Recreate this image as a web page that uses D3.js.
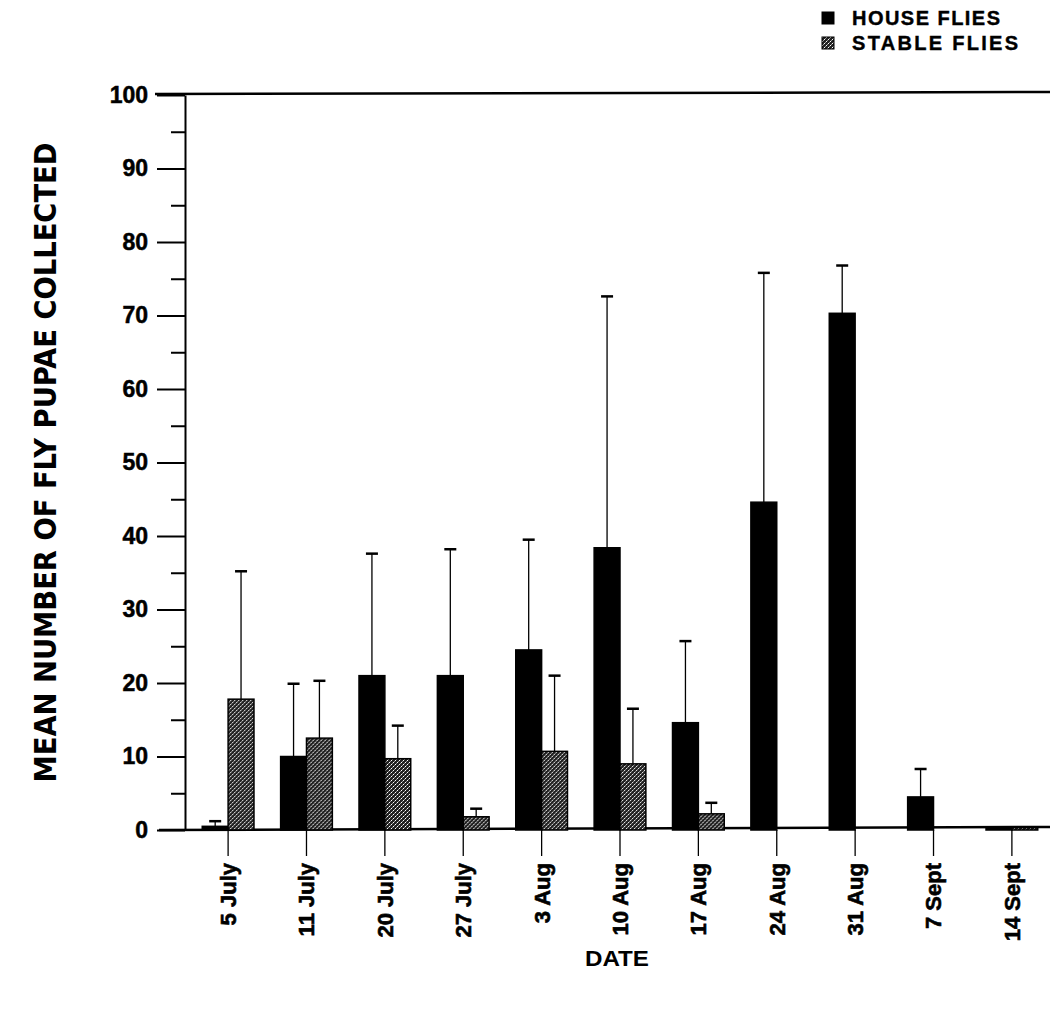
<!DOCTYPE html>
<html>
<head>
<meta charset="utf-8">
<script src="https://cdn.jsdelivr.net/npm/d3@7"></script>
<style>
  body { margin: 0; background: #fff; }
  svg { display: block; }
  text { fill: #000; }
</style>
</head>
<body>
<svg id="chart" width="1050" height="1025"></svg>
<script>
// values
var dates = ['5 July', '11 July', '20 July', '27 July', '3 Aug', '10 Aug', '17 Aug', '24 Aug', '31 Aug', '7 Sept', '14 Sept'];
var houseMean = [0.5, 10.0, 21.0, 21.0, 24.5, 38.4, 14.6, 44.6, 70.3, 4.5, 0.2];
var houseErr  = [1.2, 19.9, 37.6, 38.2, 39.5, 72.6, 25.7, 75.8, 76.8, 8.3, null];
var stableMean = [17.8, 12.5, 9.7, 1.8, 10.7, 9.0, 2.2, 0, 0, 0, 0.3];
var stableErr  = [35.2, 20.3, 14.2, 2.9, 21.0, 16.5, 3.7, null, null, null, null];
var series = ['house', 'stable'];
var legendLabels = ['HOUSE FLIES', 'STABLE FLIES'];
var majorTicks = d3.range(0, 101, 10);
var minorTicks = d3.range(5, 100, 10);

var svg = d3.select('#chart');

var defs = svg.append('defs');
var pat = defs.append('pattern').attr('id', 'stipple')
  .attr('patternUnits', 'userSpaceOnUse').attr('width', 4).attr('height', 4);
pat.append('rect').attr('width', 4).attr('height', 4).attr('fill', '#222');
[[0, 0, '#fff'], [2, 2, '#fff'], [1, 3, '#999'], [3, 1, '#999']].forEach(function(p) {
  pat.append('rect').attr('x', p[0]).attr('y', p[1]).attr('width', 1).attr('height', 1).attr('fill', p[2]);
});

var x0 = 185;
var x = d3.scaleBand().domain(dates).range([x0, 1055]).paddingInner(0.34).paddingOuter(0.22);
var xs = d3.scaleBand().domain(series).range([0, x.bandwidth()]);
var y = d3.scaleLinear().domain([0, 100]).range([830, 95]);

var rows = dates.map(function(d, i) {
  return { date: d, vals: [
    { s: 'house', v: houseMean[i], e: houseErr[i] },
    { s: 'stable', v: stableMean[i], e: stableErr[i] }
  ] };
});

var boldFont = '"Liberation Sans", Arial, sans-serif';

// frame lines
svg.append('line').attr('x1', 155).attr('x2', 1050).attr('y1', y(100) - 1).attr('y2', y(100) - 3)
  .attr('stroke', '#000').attr('stroke-width', 2.5);
svg.append('line').attr('x1', 159).attr('x2', 1050).attr('y1', y(0)).attr('y2', y(0) - 3)
  .attr('stroke', '#000').attr('stroke-width', 2.5);

// y axis
var yMaj = svg.append('g').attr('transform', 'translate(' + x0 + ',0)')
  .call(d3.axisLeft(y).tickValues(majorTicks).tickSize(28).tickSizeOuter(0).tickPadding(9));
yMaj.select('.domain').attr('stroke-width', 2);
yMaj.selectAll('.tick line').attr('stroke-width', 2);
yMaj.selectAll('text').attr('font-family', boldFont)
  .attr('font-weight', 'bold').attr('font-size', 23)
  .attr('stroke', '#000').attr('stroke-width', 0.5);
var yMin = svg.append('g').attr('transform', 'translate(' + x0 + ',0)')
  .call(d3.axisLeft(y).tickValues(minorTicks).tickSize(14).tickSizeOuter(0).tickFormat(''));
yMin.select('.domain').remove();
yMin.selectAll('.tick line').attr('stroke-width', 2);

// x axis
var xAx = svg.append('g').attr('transform', 'translate(0,' + y(0) + ')')
  .call(d3.axisBottom(x).tickSize(26).tickSizeOuter(0).tickPadding(0));
xAx.select('.domain').remove();
xAx.selectAll('.tick line').attr('stroke-width', 1.3);
xAx.selectAll('text')
  .attr('transform', 'rotate(-90)')
  .attr('text-anchor', 'end')
  .attr('x', -33).attr('y', 0).attr('dy', '0.36em')
  .attr('font-family', boldFont)
  .attr('font-weight', 'bold').attr('font-size', 22)
  .attr('stroke', '#000').attr('stroke-width', 0.6);

// bars
var groups = svg.append('g').selectAll('g').data(rows).join('g')
  .attr('transform', function(d) { return 'translate(' + x(d.date) + ',0)'; });

groups.selectAll('rect').data(function(d) { return d.vals.filter(function(v) { return v.v > 0; }); })
  .join('rect')
  .attr('x', function(d) { return xs(d.s); })
  .attr('width', xs.bandwidth())
  .attr('y', function(d) { return y(d.v); })
  .attr('height', function(d) { return y(0) - y(d.v); })
  .attr('fill', function(d) { return d.s === 'house' ? '#000' : 'url(#stipple)'; })
  .attr('stroke', '#000').attr('stroke-width', 1.5);

var errs = groups.selectAll('g.err').data(function(d) { return d.vals.filter(function(v) { return v.e != null; }); })
  .join('g').attr('class', 'err');
errs.append('line')
  .attr('x1', function(d) { return xs(d.s) + xs.bandwidth() / 2; })
  .attr('x2', function(d) { return xs(d.s) + xs.bandwidth() / 2; })
  .attr('y1', function(d) { return y(d.v); })
  .attr('y2', function(d) { return y(d.e); })
  .attr('stroke', '#000').attr('stroke-width', 1.3);
errs.append('line')
  .attr('x1', function(d) { return xs(d.s) + xs.bandwidth() / 2 - 6; })
  .attr('x2', function(d) { return xs(d.s) + xs.bandwidth() / 2 + 6; })
  .attr('y1', function(d) { return y(d.e); })
  .attr('y2', function(d) { return y(d.e); })
  .attr('stroke', '#000').attr('stroke-width', 2.5);

// axis titles
svg.append('text')
  .attr('transform', 'translate(45,' + y(50) + ') rotate(-90)')
  .attr('text-anchor', 'middle').attr('dy', '0.36em')
  .attr('font-family', '"Liberation Sans Narrow", "DejaVu Sans Condensed", sans-serif')
  .attr('font-weight', 'bold').attr('font-size', 30)
  .attr('textLength', 640).attr('lengthAdjust', 'spacingAndGlyphs')
  .text('MEAN NUMBER OF FLY PUPAE COLLECTED');

svg.append('text')
  .attr('x', 617).attr('y', 958).attr('dy', '0.36em')
  .attr('text-anchor', 'middle')
  .attr('font-family', boldFont)
  .attr('font-weight', 'bold').attr('font-size', 22)
  .attr('textLength', 64).attr('lengthAdjust', 'spacingAndGlyphs')
  .text('DATE');

// legend
var leg = svg.append('g').selectAll('g').data(series).join('g')
  .attr('transform', function(d, i) { return 'translate(822,' + (12 + i * 25) + ')'; });
leg.append('rect').attr('width', 12).attr('height', 12)
  .attr('fill', function(d) { return d === 'house' ? '#000' : 'url(#stipple)'; })
  .attr('stroke', '#000').attr('stroke-width', 1);
leg.append('text')
  .attr('x', 30).attr('y', 6).attr('dy', '0.36em')
  .attr('font-family', boldFont)
  .attr('font-weight', 'bold').attr('font-size', 20)
  .attr('stroke', '#000').attr('stroke-width', 0.4)
  .attr('textLength', function(d, i) { return i === 0 ? 148 : 166; })
  .attr('lengthAdjust', 'spacing')
  .text(function(d, i) { return legendLabels[i]; });
</script>
</body>
</html>
